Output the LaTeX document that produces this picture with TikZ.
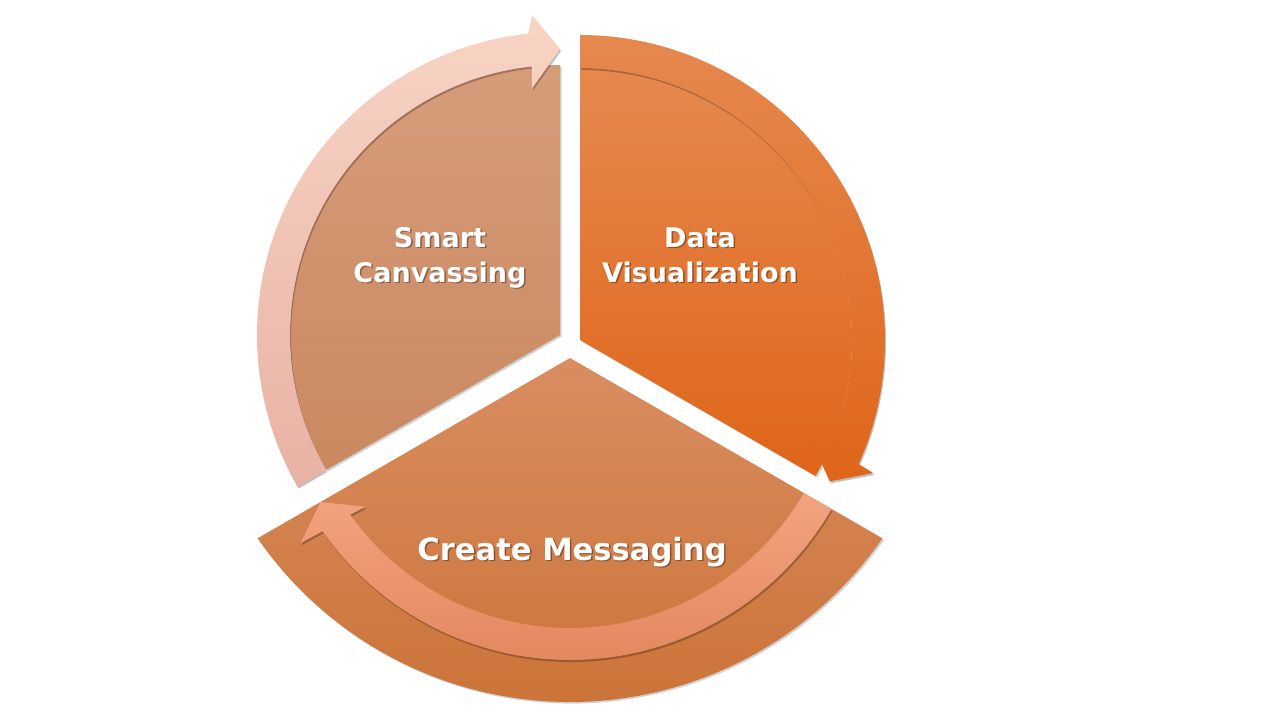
\documentclass[tikz,border=0pt]{standalone}
\usepackage{fontspec}
\setmainfont{DejaVu Sans}
\usetikzlibrary{calc,shadows}
\definecolor{lbodyT}{HTML}{D69C7A}
\definecolor{lbodyB}{HTML}{CA8860}
\definecolor{lbandT}{HTML}{F8D4C5}
\definecolor{lbandB}{HTML}{E8B2A4}
\definecolor{rbodyT}{HTML}{E6884F}
\definecolor{rbodyB}{HTML}{DF6518}
\definecolor{bbodyT}{HTML}{D98D60}
\definecolor{bbodyB}{HTML}{CB7338}
\definecolor{bbandT}{HTML}{F2A480}
\definecolor{bbandB}{HTML}{E3885F}
\begin{document}
\begin{tikzpicture}[x=0.5pt,y=0.5pt,
  sectshadow/.style={drop shadow={shadow xshift=0.8pt, shadow yshift=-0.8pt, opacity=0.18, fill=black}},
  bandshadow/.style={drop shadow={shadow xshift=0.5pt, shadow yshift=-1pt, opacity=0.25, fill=black}},
  lbl/.style={text=white, inner sep=0pt, anchor=base, font=\fontsize{13.5}{16}\selectfont\bfseries},
  lblbig/.style={lbl, font=\fontsize{15.3}{18}\selectfont\bfseries},
  sh/.style={text=black, opacity=0.35}]
\fill[white] (0,0) rectangle (1280,720);
\useasboundingbox (0,0) rectangle (1280,720);

\coordinate (L) at (560,385);
\coordinate (R) at (580,380);
\coordinate (B) at (570,362);
\coordinate (BC) at (570,398);

% bottom sector (Create Messaging)
\path[sectshadow, top color=bbodyT, bottom color=bbodyB]
  (B) -- ($(BC)+(214.7:380)$) arc[start angle=214.7,end angle=325.3,radius=380] -- cycle;
\path[bandshadow, top color=bbandT, bottom color=bbandB]
  ($(B)+(330:302)$) arc[start angle=330,end angle=215,radius=302]
  -- ($(B)+(214.5:327)$) -- ($(B)+(210:288)$) -- ($(B)+(216:253)$)
  -- ($(B)+(215.5:270)$) arc[start angle=215.5,end angle=330,radius=270] -- cycle;

% left sector (Smart Canvassing)
\path[sectshadow, top color=lbodyT, bottom color=lbodyB]
  (L) -- ($(L)+(210:270)$) arc[start angle=210,end angle=90,radius=270] -- cycle;
\path[bandshadow, top color=lbandT, bottom color=lbandB]
  ($(L)+(210:303)$) arc[start angle=210,end angle=96,radius=303]
  -- ($(L)+(95:321)$) -- ($(L)+(90:286)$) -- ($(L)+(96.5:248)$)
  -- ($(L)+(96:270)$) arc[start angle=96,end angle=210,radius=270] -- cycle;

% right sector (Data Visualization)
\path[sectshadow, top color=rbodyT, bottom color=rbodyB]
  (R) -- ($(R)+(90:272)$) arc[start angle=90,end angle=-30,radius=272] -- cycle;
\path[bandshadow, top color=rbodyT, bottom color=rbodyB]
  ($(R)+(90:305)$) arc[start angle=90,end angle=-24,radius=305]
  -- ($(R)+(-24.4:322)$) -- ($(R)+(-29.5:287)$) -- ($(R)+(-23:250)$)
  -- ($(R)+(-23.5:272)$) arc[start angle=-23.5,end angle=90,radius=272] -- cycle;

% labels with shadows
\node[lbl, sh] (smartsh) at (441.5,471.5) {Smart};
\node[lbl] (smart) at (440,473) {Smart};
\node[lbl, sh] (canvsh) at (441.5,436.5) {Canvassing};
\node[lbl] (canv) at (440,438) {Canvassing};
\node[lbl, sh] (datash) at (701.5,471.5) {Data};
\node[lbl] (data) at (700,473) {Data};
\node[lbl, sh] (vissh) at (701.5,436.5) {Visualization};
\node[lbl] (vis) at (700,438) {Visualization};
\node[lblbig, sh] (createsh) at (573.5,158.5) {Create Messaging};
\node[lblbig] (create) at (572,160) {Create Messaging};
\end{tikzpicture}
\end{document}
